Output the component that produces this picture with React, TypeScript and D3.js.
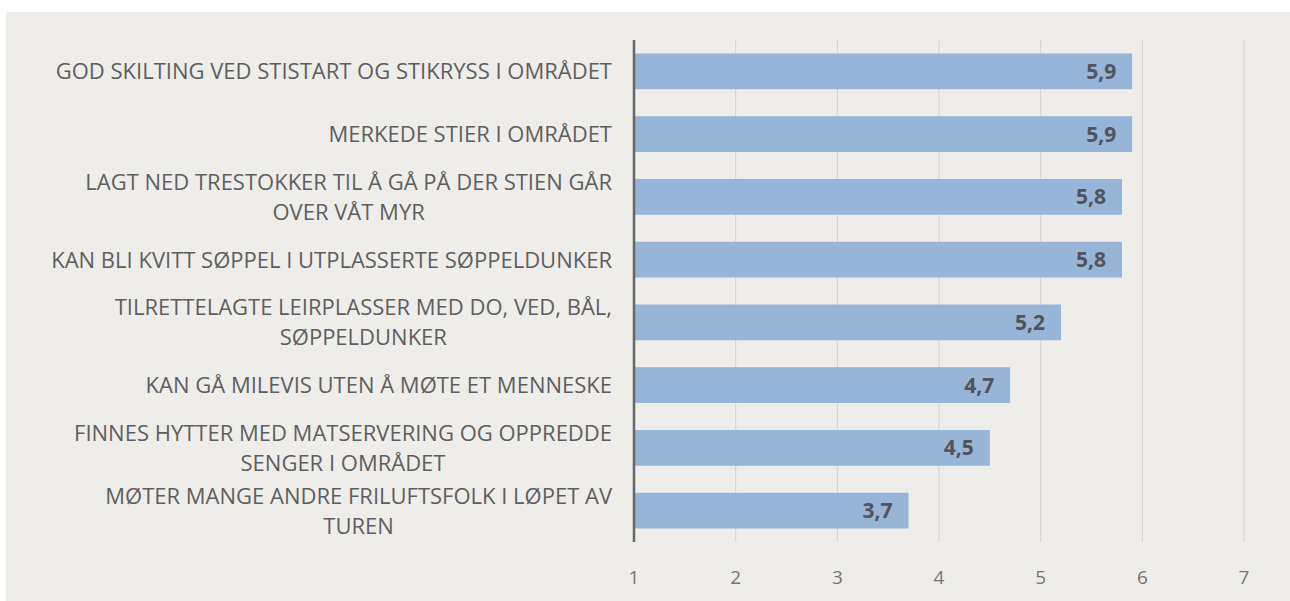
import React, { useEffect, useRef } from 'react';
import * as d3 from 'd3';

// chart data
const categories = [
  ['GOD SKILTING VED STISTART OG STIKRYSS I OMRÅDET'],
  ['MERKEDE STIER I OMRÅDET'],
  ['LAGT NED TRESTOKKER TIL Å GÅ PÅ DER STIEN GÅR', 'OVER VÅT MYR'],
  ['KAN BLI KVITT SØPPEL I UTPLASSERTE SØPPELDUNKER'],
  ['TILRETTELAGTE LEIRPLASSER MED DO, VED, BÅL,', 'SØPPELDUNKER'],
  ['KAN GÅ MILEVIS UTEN Å MØTE ET MENNESKE'],
  ['FINNES HYTTER MED MATSERVERING OG OPPREDDE', 'SENGER I OMRÅDET'],
  ['MØTER MANGE ANDRE FRILUFTSFOLK I LØPET AV', 'TUREN'],
];
const values = [5.9, 5.9, 5.8, 5.8, 5.2, 4.7, 4.5, 3.7];
const ticks = [1, 2, 3, 4, 5, 6, 7];

const W = 1290;
const H = 601;
const FONT = '"Open Sans", "DejaVu Sans", sans-serif';

export default function App() {
  const ref = useRef<SVGSVGElement>(null);

  useEffect(() => {
    const svg = d3.select(ref.current);
    svg.selectAll('*').remove();

    svg.append('rect').attr('x', 6).attr('y', 12).attr('width', W - 6).attr('height', H - 12).attr('fill', '#efedea');

    const x = d3.scaleLinear().domain([1, 7]).range([634, 1244]);
    const y = d3.scaleBand<number>().domain(d3.range(values.length)).range([40, 542]).paddingInner(0.43).paddingOuter(0.215);

    // gridlines
    svg.append('g').selectAll('line').data(ticks.slice(1)).enter().append('line')
      .attr('x1', d => x(d)).attr('x2', d => x(d))
      .attr('y1', 40).attr('y2', 542)
      .attr('stroke', '#d3d1ce').attr('stroke-width', 1);

    // bars
    svg.append('g').selectAll('rect').data(values).enter().append('rect')
      .attr('x', x(1))
      .attr('y', (d, i) => y(i)!)
      .attr('width', d => x(d) - x(1))
      .attr('height', y.bandwidth())
      .attr('fill', '#96b5d7');

    // value labels
    svg.append('g').selectAll('text').data(values).enter().append('text')
      .attr('x', d => x(d) - 16)
      .attr('y', (d, i) => y(i)! + y.bandwidth() / 2)
      .attr('dy', '0.36em')
      .attr('text-anchor', 'end')
      .attr('font-family', FONT)
      .attr('font-size', 21)
      .attr('font-weight', 'bold')
      .attr('fill', '#50545a')
      .text(d => String(d).replace('.', ','));

    // axis line
    svg.append('line').attr('x1', x(1)).attr('x2', x(1)).attr('y1', 40).attr('y2', 542)
      .attr('stroke', '#666666').attr('stroke-width', 2.5);

    // tick labels
    svg.append('g').selectAll('text').data(ticks).enter().append('text')
      .attr('x', d => x(d))
      .attr('y', 577)
      .attr('dy', '0.36em')
      .attr('text-anchor', 'middle')
      .attr('font-family', FONT)
      .attr('font-size', 19)
      .attr('fill', '#757575')
      .text(d => d);

    // category labels: block right aligned, lines centered in block
    const labels = svg.append('g').attr('font-family', FONT).attr('font-size', 22).attr('fill', '#5e5e5e');
    categories.forEach((lines, i) => {
      const cy = y(i)! + y.bandwidth() / 2;
      const g = labels.append('g');
      const texts = lines.map((l, j) => g.append('text')
        .attr('y', cy + (j - (lines.length - 1) / 2) * 30)
        .attr('dy', '0.36em')
        .attr('text-anchor', 'middle')
        .text(l));
      const widths = texts.map(t => (t.node() as SVGTextElement).getComputedTextLength());
      const maxW = d3.max(widths) || 0;
      texts.forEach(t => t.attr('x', 612 - maxW / 2));
    });
  }, []);

  return (
    <svg ref={ref} width={W} height={H} style={{ position: 'absolute', left: 0, top: 0, background: '#ffffff' }} />
  );
}
